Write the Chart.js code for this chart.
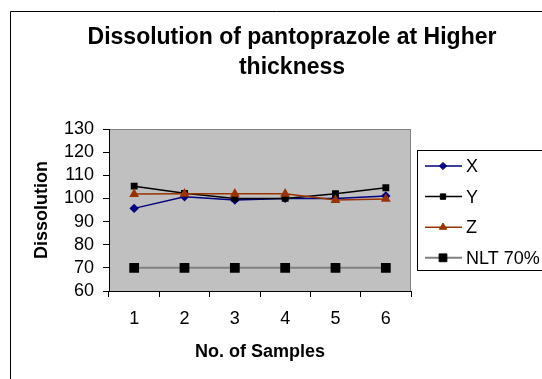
<!DOCTYPE html>
<html>
<head>
<meta charset="utf-8">
<title>Dissolution of pantoprazole at Higher thickness</title>
<script src="https://cdn.jsdelivr.net/npm/chart.js@4/dist/chart.umd.min.js"></script>
<style>
  html, body { margin: 0; padding: 0; background: #fff; }
  canvas { display: block; }
</style>
</head>
<body>
<canvas id="dissolution" width="542" height="379"></canvas>
<script>
// values
const samples = ["1", "2", "3", "4", "5", "6"];
const seriesX = [95.7, 100.7, 99.3, 100, 100, 101.1];
const seriesY = [105.3, 102.2, 100, 100, 102, 104.6];
const seriesZ = [101.9, 102, 102, 102, 99.3, 99.8];
const nlt70 = [70, 70, 70, 70, 70, 70];
const yTicks = [60, 70, 80, 90, 100, 110, 120, 130];

const titleLines = ["Dissolution of pantoprazole at Higher", "thickness"];
const fontFamily = "'Liberation Sans', Arial, sans-serif";

// white page, the chart frame and the grey plot area
const backdrop = {
    id: "backdrop",
    beforeDraw(chart) {
        const ctx = chart.ctx;
        const a = chart.chartArea;
        ctx.save();
        ctx.fillStyle = "#fff";
        ctx.fillRect(0, 0, chart.width, chart.height);
        ctx.strokeStyle = "#000";
        ctx.lineWidth = 1;
        ctx.beginPath();
        ctx.moveTo(10.5, chart.height);
        ctx.lineTo(10.5, 11.5);
        ctx.lineTo(chart.width, 11.5);
        ctx.stroke();
        ctx.fillStyle = "#c0c0c0";
        ctx.fillRect(a.left, a.top, a.right - a.left, a.bottom - a.top);
        ctx.strokeStyle = "#808080";
        ctx.strokeRect(a.left + 0.5, a.top + 0.5, a.right - a.left - 1, a.bottom - a.top);
        ctx.restore();
    }
};

// two-line bold title
const chartTitle = {
    id: "chartTitle",
    afterDraw(chart) {
        const ctx = chart.ctx;
        ctx.save();
        ctx.fillStyle = "#000";
        ctx.font = "bold 23px " + fontFamily;
        ctx.textAlign = "center";
        ctx.textBaseline = "alphabetic";
        ctx.fillText(titleLines[0], 292, 44);
        ctx.fillText(titleLines[1], 292, 74);
        ctx.restore();
    }
};

// excel style legend: short line with the marker in the middle
const lineLegend = {
    id: "lineLegend",
    afterDraw(chart) {
        const ctx = chart.ctx;
        ctx.save();
        ctx.strokeStyle = "#000";
        ctx.lineWidth = 1;
        ctx.strokeRect(417.5, 150.5, 140, 120);
        ctx.font = "18px " + fontFamily;
        ctx.textBaseline = "middle";
        chart.data.datasets.forEach((ds, i) => {
            const y = 166 + i * 30.6;
            ctx.strokeStyle = ds.borderColor;
            ctx.lineWidth = ds.borderWidth;
            ctx.beginPath();
            ctx.moveTo(425, y);
            ctx.lineTo(462, y);
            ctx.stroke();
            ctx.fillStyle = ds.pointBackgroundColor;
            ctx.strokeStyle = ds.pointBorderColor;
            ctx.lineWidth = 1;
            Chart.helpers.drawPoint(ctx, {
                pointStyle: ds.pointStyle,
                radius: ds.pointRadius,
                rotation: 0,
                borderWidth: 1
            }, 443, y);
            ctx.fillStyle = "#000";
            ctx.fillText(ds.label, 466, y + 1);
        });
        ctx.restore();
    }
};

const option = {
    type: "line",
    data: {
        labels: samples,
        datasets: [{
            label: "X",
            data: seriesX,
            borderColor: "#000080",
            borderWidth: 1.5,
            pointStyle: "rectRot",
            pointRadius: 3.6,
            pointBackgroundColor: "#000080",
            pointBorderColor: "#000080",
            order: 3
        },
        {
            label: "Y",
            data: seriesY,
            borderColor: "#000000",
            borderWidth: 1.5,
            pointStyle: "rect",
            pointRadius: 3.8,
            pointBackgroundColor: "#000000",
            pointBorderColor: "#000000",
            order: 2
        },
        {
            label: "Z",
            data: seriesZ,
            borderColor: "#993300",
            borderWidth: 1.5,
            pointStyle: "triangle",
            pointRadius: 4.2,
            pointBackgroundColor: "#993300",
            pointBorderColor: "#993300",
            order: 1
        },
        {
            label: "NLT 70%",
            data: nlt70,
            borderColor: "#808080",
            borderWidth: 2,
            pointStyle: "rect",
            pointRadius: 5.5,
            pointBackgroundColor: "#000000",
            pointBorderColor: "#000000",
            order: 0
        }]
    },
    options: {
        responsive: false,
        animation: false,
        layout: {
            padding: { top: 129, right: 131, left: 0, bottom: 0 }
        },
        plugins: {
            legend: { display: false },
            title: { display: false },
            tooltip: { enabled: false }
        },
        elements: {
            line: { tension: 0, fill: false },
            point: { borderWidth: 1 }
        },
        scales: {
            x: {
                offset: true,
                grid: {
                    display: true,
                    drawOnChartArea: false,
                    offset: true,
                    tickLength: 6,
                    color: "#000"
                },
                border: { display: true, color: "#000" },
                ticks: {
                    color: "#000",
                    font: { family: fontFamily, size: 18 },
                    padding: 11,
                    maxRotation: 0,
                    autoSkip: false
                },
                title: {
                    display: true,
                    text: "No. of Samples",
                    color: "#000",
                    font: { family: fontFamily, size: 18, weight: "bold" },
                    padding: { top: 0, bottom: 16 }
                },
                afterFit(scale) { scale.height = 88; }
            },
            y: {
                min: 60,
                max: 130,
                afterBuildTicks(scale) {
                    scale.ticks = yTicks.map(v => ({ value: v }));
                },
                grid: {
                    display: true,
                    drawOnChartArea: false,
                    tickLength: 6,
                    color: "#000"
                },
                border: { display: true, color: "#000" },
                ticks: {
                    color: "#000",
                    font: { family: fontFamily, size: 18 },
                    padding: 9,
                    autoSkip: false
                },
                title: {
                    display: true,
                    text: "Dissolution",
                    color: "#000",
                    font: { family: fontFamily, size: 18, weight: "bold" },
                    padding: { top: 31, bottom: 0 }
                },
                afterFit(scale) { scale.width = 109; }
            }
        }
    },
    plugins: [backdrop, chartTitle, lineLegend]
};

const ctx = document.getElementById("dissolution").getContext("2d");
const myChart = new Chart(ctx, option);
</script>
</body>
</html>
